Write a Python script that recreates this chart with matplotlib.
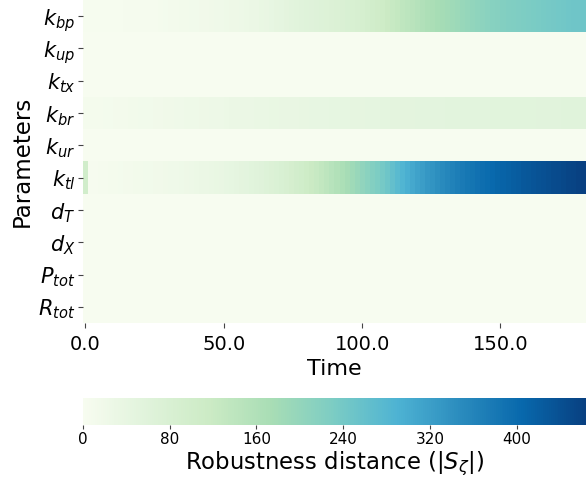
import numpy as np
import matplotlib
matplotlib.use('Agg')
import matplotlib.pyplot as plt

# ---------- DATA -----------------------
params = [r'$k_{bp}$', r'$k_{up}$', r'$k_{tx}$', r'$k_{br}$', r'$k_{ur}$',
          r'$k_{tl}$', r'$d_T$', r'$d_X$', r'$P_{tot}$', r'$R_{tot}$']

n_time = 100
time = np.linspace(0, 180, n_time)

# robustness distance |S| per parameter over time
k_bp = [3, 3, 3, 3, 3, 3, 3, 3, 6, 6,
        6, 6, 6, 6, 6, 9, 10, 11, 12, 13,
        14, 15, 16, 17, 18, 19, 20, 21, 22, 24,
        25, 26, 28, 30, 32, 35, 38, 41, 44, 47,
        50, 53, 56, 58, 60, 62, 64, 66, 68, 71,
        74, 77, 80, 83, 86, 90, 95, 100, 106, 112,
        118, 124, 130, 136, 142, 148, 154, 160, 165, 170,
        174, 178, 182, 186, 190, 194, 198, 202, 206, 210,
        213, 216, 219, 222, 224, 226, 228, 230, 231, 232,
        234, 236, 238, 240, 242, 243, 245, 247, 248, 250]
k_up = [0.0] * n_time
k_tx = [0.0] * n_time
k_br = [8, 8, 9, 9, 10, 10, 11, 11, 12, 13,
        14, 15, 16, 16, 17, 18, 19, 19, 20, 21,
        22, 23, 23, 24, 25, 26, 26, 27, 28, 29,
        30, 30, 31, 32, 33, 33, 34, 35, 36, 37,
        37, 38, 38, 39, 39, 40, 40, 41, 41, 42,
        42, 43, 43, 44, 44, 45, 46, 46, 47, 48,
        48, 49, 49, 50, 50, 50, 51, 51, 51, 52,
        52, 52, 53, 53, 53, 53, 54, 54, 54, 54,
        54, 55, 55, 55, 55, 56, 56, 56, 56, 56,
        57, 57, 57, 57, 57, 58, 58, 58, 58, 58]
k_ur = [0.0] * n_time
k_tl = [100, 4, 5, 6, 7, 8, 9, 10, 11, 12,
        13, 14, 15, 16, 17, 18, 19, 20, 21, 22,
        24, 26, 28, 30, 32, 34, 36, 38, 40, 43,
        46, 49, 52, 55, 59, 63, 67, 71, 76, 81,
        86, 92, 98, 104, 111, 118, 125, 133, 141, 150,
        159, 168, 177, 186, 195, 204, 213, 222, 230, 238,
        250, 262, 274, 286, 296, 305, 314, 322, 330, 337,
        344, 351, 358, 364, 370, 376, 381, 386, 391, 396,
        400, 404, 408, 412, 416, 420, 424, 428, 431, 434,
        437, 440, 443, 446, 449, 452, 455, 458, 461, 464]
d_T = [0.0] * n_time
d_X = [0.0] * n_time
P_tot = [0.0] * n_time
R_tot = [0.0] * n_time

cbar_ticks = [0, 80, 160, 240, 320, 400]
time_ticks = [0.0, 50.0, 100.0, 150.0]

# ---------- PLOT -----------------------
S = np.array([k_bp, k_up, k_tx, k_br, k_ur, k_tl, d_T, d_X, P_tot, R_tot], dtype=float)

dt = time[1] - time[0]
x_edges = np.concatenate([time - dt / 2, [time[-1] + dt / 2]])
y_edges = np.arange(len(params) + 1)

fig = plt.figure(figsize=(5.86, 4.79), dpi=100)
ax = fig.add_axes([0.1416, 0.3257, 0.8584, 0.6743])
cax = fig.add_axes([0.1416, 0.1127, 0.8584, 0.0564])

mesh = ax.pcolormesh(x_edges, y_edges, S, cmap='GnBu', vmin=0, vmax=S.max())
ax.set_xlim(x_edges[0], x_edges[-1])
ax.set_ylim(len(params), 0)
for s in ax.spines.values():
    s.set_visible(False)

ax.set_yticks(np.arange(len(params)) + 0.5)
ax.set_yticklabels(params, fontsize=15)
ax.set_xticks(time_ticks)
ax.set_xticklabels([f'{t:.1f}' for t in time_ticks], fontsize=14)
ax.tick_params(length=3.5, width=0.8, color='#444444', pad=2)
ax.tick_params(axis='x', pad=5)
ax.set_xlabel('Time', fontsize=16, labelpad=4)
ax.set_ylabel('Parameters', fontsize=16.5, labelpad=3)

cb = fig.colorbar(mesh, cax=cax, orientation='horizontal')
cb.outline.set_visible(False)
cb.set_ticks(cbar_ticks)
cb.ax.tick_params(labelsize=11, length=3, width=0.8, color='#444444', pad=2)
cb.set_label(r'Robustness distance ($|S_{\zeta}|$)', fontsize=16.4, labelpad=2)

fig.savefig('out.png', dpi=100)
